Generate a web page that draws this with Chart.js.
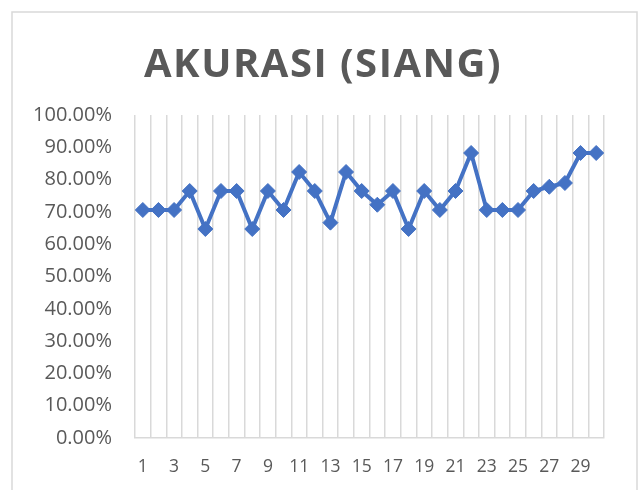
<!DOCTYPE html>
<html>
<head>
<meta charset="utf-8">
<script src="https://cdn.jsdelivr.net/npm/chart.js@4"></script>
<style>
	body { margin: 0; background: #ffffff; }
	canvas { display: block; }
</style>
</head>
<body>
<canvas id="akurasiChart" width="640" height="490"></canvas>
<script>
// data
const days = [
	"1", "2", "3", "4", "5", "6", "7", "8", "9", "10",
	"11", "12", "13", "14", "15", "16", "17", "18", "19", "20",
	"21", "22", "23", "24", "25", "26", "27", "28", "29", "30",
];
const accuracy = [
	70.59, 70.59, 70.59, 76.47, 64.71, 76.47, 76.47, 64.71, 76.47, 70.59,
	82.35, 76.47, 66.67, 82.35, 76.47, 72.22, 76.47, 64.71, 76.47, 70.59,
	76.47, 88.24, 70.59, 70.59, 70.59, 76.47, 77.78, 78.95, 88.24, 88.24,
];
const chartTitle = "AKURASI (SIANG)";

const textColor = "#595959";
const gridColor = "#d9d9d9";
const lineColor = "#4472C4";

// grey frame round the chart and the letter-spaced title (Chart.js title has no letter spacing)
const frameAndTitle = {
	id: "frameAndTitle",
	beforeDraw(chart) {
		const ctx = chart.ctx;
		ctx.save();
		ctx.strokeStyle = gridColor;
		ctx.lineWidth = 1.5;
		ctx.strokeRect(12, 12, 625, 500);
		ctx.restore();
	},
	afterDraw(chart) {
		const ctx = chart.ctx;
		ctx.save();
		ctx.fillStyle = textColor;
		ctx.font = "bold 40px 'Open Sans'";
		ctx.letterSpacing = "1.5px";
		ctx.textAlign = "center";
		ctx.textBaseline = "alphabetic";
		ctx.fillText(chartTitle, 323, 77);
		ctx.restore();
	},
};

const ctx = document.getElementById("akurasiChart").getContext("2d");
new Chart(ctx, {
	type: "line",
	data: {
		labels: days,
		datasets: [
			{
				label: "Akurasi",
				data: accuracy,
				borderColor: lineColor,
				backgroundColor: lineColor,
				borderWidth: 4,
				tension: 0,
				pointStyle: "rectRot",
				pointRadius: 7.5,
				pointBackgroundColor: lineColor,
				pointBorderColor: lineColor,
				pointBorderWidth: 1,
				fill: false,
			},
		],
	},
	options: {
		responsive: false,
		animation: false,
		layout: { padding: { left: 12, right: 36, top: 115, bottom: 0 } },
		plugins: {
			legend: { display: false },
			tooltip: { enabled: false },
			title: { display: false },
		},
		scales: {
			x: {
				offset: true,
				grid: {
					offset: true,
					color: gridColor,
					lineWidth: 1.5,
					drawTicks: false,
				},
				border: { display: true, color: gridColor, width: 1.5 },
				ticks: {
					autoSkip: false,
					maxRotation: 0,
					padding: 19,
					color: textColor,
					font: { family: "'Open Sans'", size: 17.5 },
					callback: function (value, index) {
						return index % 2 === 0 ? this.getLabelForValue(value) : "";
					},
				},
				afterFit: (scale) => {
					scale.height = 52;
				},
			},
			y: {
				min: 0,
				max: 100,
				grid: { display: false, drawTicks: false },
				border: { display: false },
				ticks: {
					stepSize: 10,
					padding: 23,
					color: textColor,
					font: { family: "'Open Sans'", size: 20 },
					callback: (value) => value.toFixed(2) + "%",
				},
				afterFit: (scale) => {
					scale.width = 123;
				},
			},
		},
	},
	plugins: [frameAndTitle],
});
</script>
</body>
</html>
